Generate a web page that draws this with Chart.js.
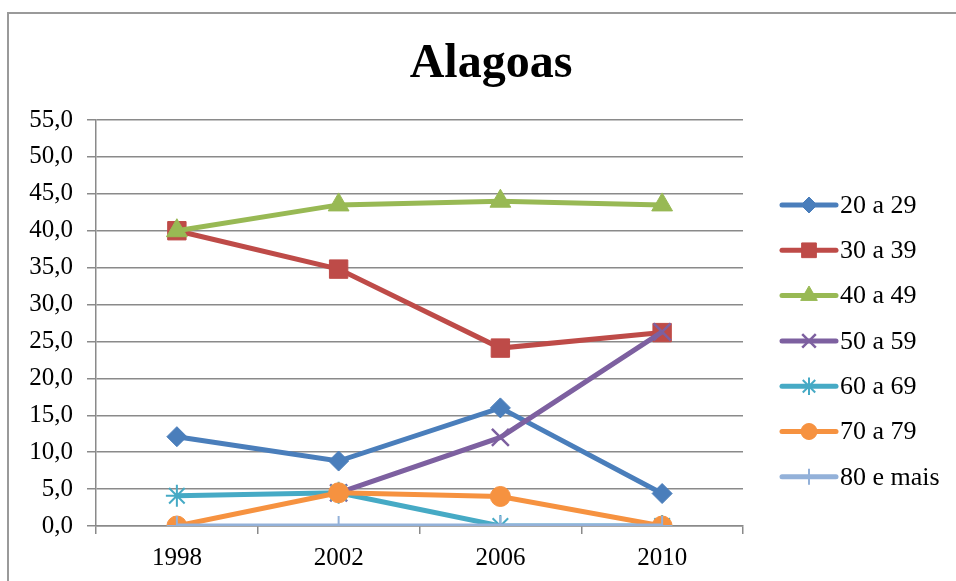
<!DOCTYPE html>
<html>
<head>
<meta charset="utf-8">
<script src="https://cdn.jsdelivr.net/npm/chart.js@4/dist/chart.umd.min.js"></script>
<style>
  html, body { margin: 0; padding: 0; background: #ffffff; }
  #wrap { width: 956px; height: 581px; position: relative; }
</style>
</head>
<body>
<div id="wrap"><canvas id="c" width="956" height="581"></canvas></div>
<script>
const chartTitle = 'Alagoas';
const categories = ['1998', '2002', '2006', '2010'];
const seriesNames = ['20 a 29', '30 a 39', '40 a 49', '50 a 59', '60 a 69', '70 a 79', '80 e mais'];
const s20a29 = [12.1, 8.8, 16.0, 4.4];
const s30a39 = [40.0, 34.8, 24.1, 26.2];
const s40a49 = [40.0, 43.5, 44.0, 43.5];
const s50a59 = [null, 4.5, 12.0, 26.3];
const s60a69 = [4.1, 4.5, 0.0, 0.0];
const s70a79 = [0.0, 4.5, 4.0, 0.0];
const s80mais = [0.0, 0.0, 0.0, 0.0];
const yTicks = [0, 5, 10, 15, 20, 25, 30, 35, 40, 45, 50, 55];

const seriesValues = [s20a29, s30a39, s40a49, s50a59, s60a69, s70a79, s80mais];
const colors = ['#4A7EBB', '#BE4B48', '#98B954', '#7D60A0', '#46AAC5', '#F69240', '#93B1D9'];
const styles = ['rectRot', 'rect', 'triangle', 'crossRot', 'star', 'circle', 'cross'];
const radii = [10, 13, 12, 12, 11, 10, 10];
const pBorder = [1, 1, 1, 2.5, 2, 1, 2];

const datasets = seriesValues.map((vals, i) => ({
  label: seriesNames[i],
  data: vals,
  borderColor: colors[i],
  backgroundColor: colors[i],
  borderWidth: 5,
  tension: 0,
  pointStyle: styles[i],
  pointRadius: radii[i],
  pointHoverRadius: radii[i],
  pointBorderWidth: pBorder[i],
  pointBackgroundColor: colors[i],
  pointBorderColor: colors[i],
  order: seriesValues.length - i,
  spanGaps: false
}));

const serif = "'Liberation Serif', 'Times New Roman', serif";

const decor = {
  id: 'decor',
  beforeDraw(chart) {
    const ctx = chart.ctx;
    ctx.save();
    ctx.fillStyle = '#ffffff';
    ctx.fillRect(0, 0, chart.width, chart.height);
    ctx.strokeStyle = '#9a9a9a';
    ctx.lineWidth = 2;
    ctx.beginPath();
    ctx.moveTo(8, 600);
    ctx.lineTo(8, 13);
    ctx.lineTo(1000, 13);
    ctx.stroke();
    ctx.restore();
  },
  afterDraw(chart) {
    const ctx = chart.ctx;
    ctx.save();
    // title
    ctx.fillStyle = '#000000';
    ctx.font = 'bold 48px ' + serif;
    ctx.textAlign = 'center';
    ctx.textBaseline = 'alphabetic';
    ctx.fillText(chartTitle, 491, 77);
    // legend
    chart.data.datasets.forEach((ds, i) => {
      const y = 205 + 45.3 * i;
      ctx.strokeStyle = ds.borderColor;
      ctx.lineWidth = 5;
      ctx.lineCap = 'round';
      ctx.beginPath();
      ctx.moveTo(782, y);
      ctx.lineTo(836, y);
      ctx.stroke();
      ctx.fillStyle = ds.pointBackgroundColor;
      ctx.strokeStyle = ds.pointBorderColor;
      ctx.lineWidth = ds.pointBorderWidth;
      ctx.lineCap = 'butt';
      Chart.helpers.drawPoint(ctx, {
        pointStyle: ds.pointStyle,
        radius: ds.pointRadius * 0.8,
        rotation: 0,
        borderWidth: ds.pointBorderWidth
      }, 809, y);
      ctx.fillStyle = '#000000';
      ctx.font = '26px ' + serif;
      ctx.textAlign = 'left';
      ctx.textBaseline = 'middle';
      ctx.fillText(ds.label, 840, y + 1);
    });
    ctx.restore();
  }
};

new Chart(document.getElementById('c'), {
  type: 'line',
  data: { labels: categories, datasets: datasets },
  options: {
    responsive: false,
    animation: false,
    events: [],
    layout: { padding: { top: 120, right: 213, bottom: 0, left: 0 } },
    plugins: {
      legend: { display: false },
      title: { display: false },
      tooltip: { enabled: false }
    },
    scales: {
      x: {
        type: 'category',
        offset: true,
        afterFit(scale) { scale.height = 55; },
        grid: {
          offset: true,
          drawOnChartArea: false,
          drawTicks: true,
          tickLength: 8,
          color: '#8a8a8a',
          lineWidth: 1.5
        },
        border: { display: true, color: '#8a8a8a', width: 1.5 },
        ticks: {
          color: '#000000',
          font: { family: serif, size: 25 },
          padding: 9,
          maxRotation: 0
        }
      },
      y: {
        min: 0,
        max: 55,
        afterFit(scale) { scale.width = 96; },
        afterBuildTicks(scale) { scale.ticks = yTicks.map(v => ({ value: v })); },
        grid: {
          color: '#8a8a8a',
          lineWidth: 1.5,
          drawTicks: true,
          tickLength: 9
        },
        border: { display: true, color: '#8a8a8a', width: 1.5 },
        ticks: {
          color: '#000000',
          font: { family: serif, size: 25 },
          padding: 14,
          callback: (v) => Number(v).toFixed(1).replace('.', ',')
        }
      }
    }
  },
  plugins: [decor]
});
</script>
</body>
</html>
